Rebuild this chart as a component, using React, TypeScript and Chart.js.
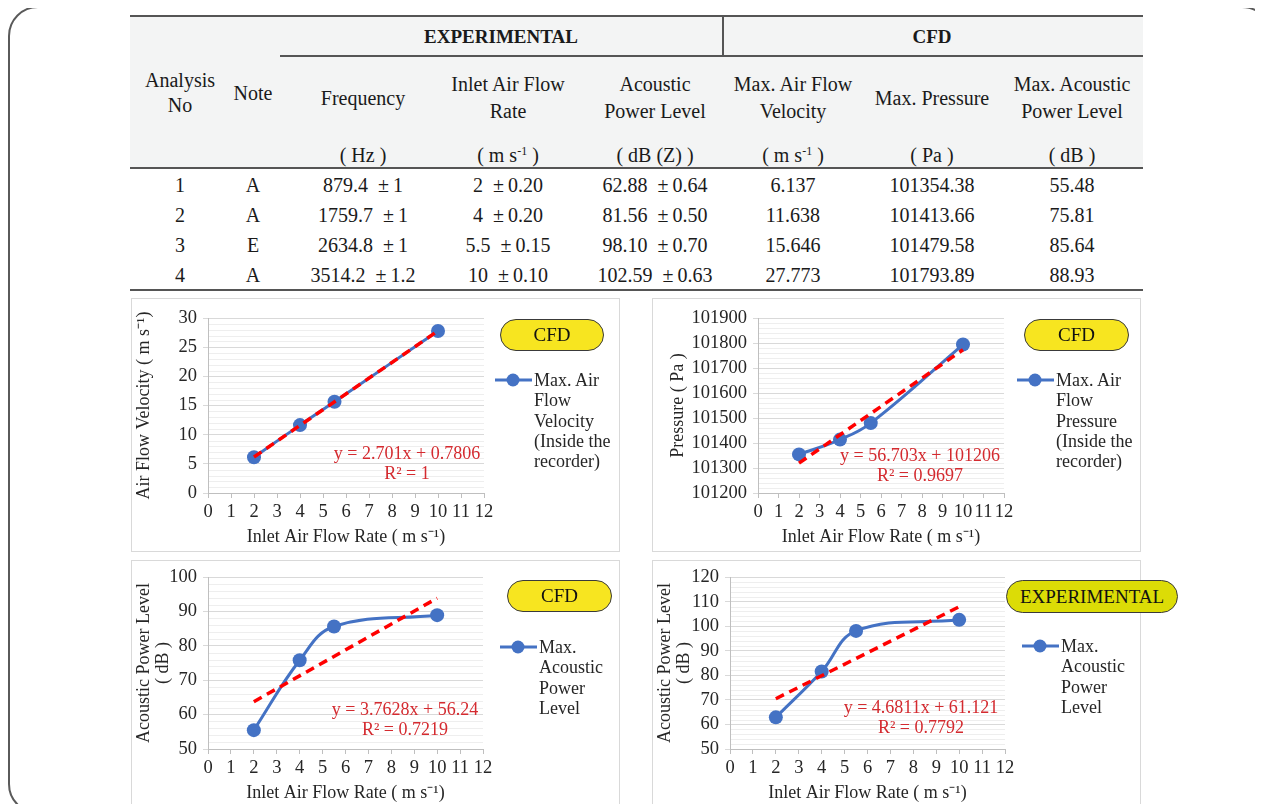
import React, { useEffect, useRef } from "react";
import { Chart, registerables } from "chart.js";

Chart.register(...registerables);

// ---------------- DATA ----------------
const analysisNo = [1, 2, 3, 4];
const noteNames = ["A", "A", "E", "A"];
const frequencyHz = ["879.4", "1759.7", "2634.8", "3514.2"];
const frequencyErr = ["1", "1", "1", "1.2"];
const flowRate = [2, 4, 5.5, 10];
const flowRateErr = ["0.20", "0.20", "0.15", "0.10"];
const expAcoustic = [62.88, 81.56, 98.1, 102.59];
const expAcousticErr = ["0.64", "0.50", "0.70", "0.63"];
const maxVelocity = [6.137, 11.638, 15.646, 27.773];
const maxPressure = [101354.38, 101413.66, 101479.58, 101793.89];
const cfdAcoustic = [55.48, 75.81, 85.64, 88.93];

// linear trendline end points (x = 2 and x = 10) as shown by the fitted equations
const trendX = [2, 10];
const trendVelocity = [6.18, 27.79];
const trendPressure = [101319.4, 101773.0];
const trendCfdAcoustic = [63.77, 93.87];
const trendExpAcoustic = [70.48, 107.93];

const xTickMin = 0;
const xTickMax = 12;

const SERIF = "'Liberation Serif', 'Times New Roman', Times, serif";
const BLUE = "#4472c4";
const EQ_RED = "#d42a2f";

// ---------------- minor grid plugin ----------------
const minorGridPlugin = {
  id: "minorGrid",
  beforeDatasetsDraw(chart: any, _args: any, opts: any) {
    const { ctx, chartArea } = chart;
    const y = chart.scales.y;
    const { min, max, step, major } = opts;
    if (!step) return;
    const n = Math.round((max - min) / step);
    ctx.save();
    ctx.strokeStyle = "#eeeeee";
    ctx.lineWidth = 1;
    for (let i = 0; i <= n; i++) {
      const v = min + i * step;
      const r = (v - min) / major;
      if (Math.abs(r - Math.round(r)) < 1e-6) continue;
      const py = Math.round(y.getPixelForValue(v)) + 0.5;
      ctx.beginPath();
      ctx.moveTo(chartArea.left + 1, py);
      ctx.lineTo(chartArea.right, py);
      ctx.stroke();
    }
    ctx.restore();
  },
};

type Panel = {
  box: { x: number; y: number; w: number; h: number };
  area: { l: number; r: number; t: number; b: number };
  yMin: number;
  yMax: number;
  yStep: number;
  yMinor: number;
  yTitle: string | string[];
  yTitlePad: number;
  xTitlePad: number;
  values: number[];
  trend: number[];
};

function ScatterPanel({ p }: { p: Panel }) {
  const ref = useRef<HTMLCanvasElement | null>(null);
  useEffect(() => {
    if (!ref.current) return;
    const tickFont = { family: SERIF, size: 18.5 };
    const titleFont = { family: SERIF, size: 18, lineHeight: 1.1 };
    const chart = new Chart(ref.current, {
      type: "scatter",
      data: {
        datasets: [
          {
            data: trendX.map((x, i) => ({ x, y: p.trend[i] })),
            showLine: true,
            borderColor: "#ff0000",
            borderWidth: 3.5,
            borderDash: [9, 6],
            pointRadius: 0,
            tension: 0,
          },
          {
            data: flowRate.map((x, i) => ({ x, y: p.values[i] })),
            showLine: true,
            borderColor: BLUE,
            backgroundColor: BLUE,
            borderWidth: 3,
            pointRadius: 7,
            pointBorderWidth: 0,
            pointBackgroundColor: BLUE,
            tension: 0.4,
          },
        ],
      } as any,
      options: {
        responsive: false,
        animation: false,
        events: [],
        layout: {
          padding: { left: 0, top: p.area.t, right: p.box.w - p.area.r, bottom: 0 },
        },
        plugins: {
          legend: { display: false },
          tooltip: { enabled: false },
          minorGrid: { min: p.yMin, max: p.yMax, step: p.yMinor, major: p.yStep },
        } as any,
        scales: {
          x: {
            type: "linear",
            min: xTickMin,
            max: xTickMax,
            ticks: {
              stepSize: 1,
              autoSkip: false,
              maxRotation: 0,
              font: tickFont,
              color: "#262626",
              padding: 3,
            },
            grid: { drawOnChartArea: false, color: "#bfbfbf", tickLength: 5 },
            border: { color: "#bfbfbf" },
            title: {
              display: true,
              text: "Inlet Air Flow Rate ( m s\u207B\u00B9)",
              font: titleFont,
              color: "#262626",
              padding: { top: 0, bottom: p.xTitlePad },
            },
            afterFit: (s: any) => {
              s.height = p.box.h - p.area.b;
            },
          },
          y: {
            type: "linear",
            min: p.yMin,
            max: p.yMax,
            ticks: {
              stepSize: p.yStep,
              autoSkip: false,
              font: tickFont,
              color: "#262626",
              padding: 6,
              callback: (v: any) => String(Math.round(Number(v))),
            },
            grid: { color: "#d9d9d9", tickLength: 5 },
            border: { color: "#bfbfbf" },
            title: {
              display: true,
              text: p.yTitle,
              font: titleFont,
              color: "#262626",
              padding: { top: p.yTitlePad, bottom: 0 },
            },
            afterFit: (s: any) => {
              s.width = p.area.l;
            },
          },
        },
      } as any,
      plugins: [minorGridPlugin],
    });
    return () => chart.destroy();
  }, [p]);

  return (
    <div
      style={{
        position: "absolute",
        left: p.box.x,
        top: p.box.y,
        width: p.box.w,
        height: p.box.h,
        outline: "1px solid #d9d9d9",
        outlineOffset: -1,
        background: "#fff",
      }}
    >
      <canvas ref={ref} width={p.box.w} height={p.box.h} style={{ display: "block" }} />
    </div>
  );
}

// ---------------- overlays ----------------
function Pill({ x, y, w, h, text, color }: any) {
  return (
    <div
      style={{
        position: "absolute",
        left: x,
        top: y,
        width: w,
        height: h,
        boxSizing: "border-box",
        border: "1.2px solid #3a3a3a",
        borderRadius: h / 2,
        background: color,
        fontFamily: SERIF,
        fontSize: 19,
        lineHeight: h - 2 + "px",
        textAlign: "center",
        color: "#111",
      }}
    >
      {text}
    </div>
  );
}

function LegendItem({ x, y, lines }: any) {
  return (
    <div style={{ position: "absolute", left: x, top: y - 10, fontFamily: SERIF, fontSize: 18, lineHeight: "20.3px", color: "#262626" }}>
      <svg width={38} height={20} style={{ position: "absolute", left: 0, top: 0 }}>
        <line x1={0} y1={10} x2={37} y2={10} stroke={BLUE} strokeWidth={3} />
        <circle cx={18} cy={10} r={6.5} fill={BLUE} />
      </svg>
      <div style={{ position: "absolute", left: 39, top: 0, whiteSpace: "nowrap" }}>
        {lines.map((l: string, i: number) => (
          <div key={i}>{l}</div>
        ))}
      </div>
    </div>
  );
}

function Equation({ cx, y, lines }: any) {
  return (
    <div
      style={{
        position: "absolute",
        left: cx - 120,
        width: 240,
        top: y - 10,
        textAlign: "center",
        fontFamily: SERIF,
        fontSize: 18,
        lineHeight: "19.5px",
        color: EQ_RED,
        whiteSpace: "nowrap",
      }}
    >
      {lines.map((l: string, i: number) => (
        <div key={i}>{l}</div>
      ))}
    </div>
  );
}

function Txt({ x, y, lines, lh = 26, bold = false, size = 20 }: any) {
  const n = lines.length;
  return (
    <div
      style={{
        position: "absolute",
        left: x - 100,
        width: 200,
        top: y - (n * lh) / 2,
        textAlign: "center",
        fontFamily: SERIF,
        fontSize: size,
        fontWeight: bold ? "bold" : "normal",
        lineHeight: lh + "px",
        color: "#1a1a1a",
        whiteSpace: "nowrap",
      }}
    >
      {lines.map((l: any, i: number) => (
        <div key={i}>{l}</div>
      ))}
    </div>
  );
}

const ms1 = (
  <span>
    ( m s<sup style={{ fontSize: 12, verticalAlign: 0, position: "relative", top: -7 }}>-1</sup> )
  </span>
);

const panels: Panel[] = [
  {
    box: { x: 131, y: 298, w: 489, h: 254 },
    area: { l: 77, r: 353, t: 20, b: 195 },
    yMin: 0, yMax: 30, yStep: 5, yMinor: 1,
    yTitle: "Air Flow Velocity ( m s\u207B\u00B9)",
    yTitlePad: 3, xTitlePad: 5,
    values: maxVelocity, trend: trendVelocity,
  },
  {
    box: { x: 652, y: 298, w: 489, h: 254 },
    area: { l: 106, r: 352, t: 20, b: 195 },
    yMin: 101200, yMax: 101900, yStep: 100, yMinor: 20,
    yTitle: "Pressure ( Pa )",
    yTitlePad: 16, xTitlePad: 5,
    values: maxPressure, trend: trendPressure,
  },
  {
    box: { x: 131, y: 560, w: 489, h: 245 },
    area: { l: 77, r: 352, t: 14, b: 189 },
    yMin: 50, yMax: 100, yStep: 10, yMinor: 2,
    yTitle: ["Acoustic Power Level", "( dB )"],
    yTitlePad: 3, xTitlePad: 2,
    values: cfdAcoustic, trend: trendCfdAcoustic,
  },
  {
    box: { x: 652, y: 560, w: 489, h: 245 },
    area: { l: 78, r: 353, t: 14, b: 189 },
    yMin: 50, yMax: 120, yStep: 10, yMinor: 2,
    yTitle: ["Acoustic Power Level", "( dB )"],
    yTitlePad: 3, xTitlePad: 2,
    values: expAcoustic, trend: trendExpAcoustic,
  },
];

const colX = [180, 253, 363, 508, 655, 793, 932, 1072];
const rowY = [185, 215, 245, 275];
const pm = (a: string, e: string) => `${a} \u00a0\u00b1\u2009${e}`;

export default function App() {
  return (
    <div style={{ position: "relative", width: 1263, height: 812, margin: -8, overflow: "hidden", background: "#fff" }}>
      {/* outer frame */}
      <div
        style={{
          position: "absolute",
          left: 8,
          top: 6,
          width: 1264,
          height: 808,
          boxSizing: "border-box",
          border: "2.5px solid #5a5a5a",
          borderRadius: 30,
        }}
      />
      {/* table header background */}
      <div style={{ position: "absolute", left: 130, top: 16, width: 1013, height: 152, background: "#f3f4f4" }} />
      <div style={{ position: "absolute", left: 130, top: 15, width: 1013, height: 2, background: "#555" }} />
      <div style={{ position: "absolute", left: 280, top: 55, width: 863, height: 2, background: "#555" }} />
      <div style={{ position: "absolute", left: 722, top: 16, width: 1.5, height: 40, background: "#555" }} />
      <div style={{ position: "absolute", left: 130, top: 167, width: 1013, height: 2, background: "#555" }} />
      <div style={{ position: "absolute", left: 130, top: 289, width: 1013, height: 2, background: "#555" }} />

      <Txt x={501} y={37} lines={["EXPERIMENTAL"]} bold size={19} />
      <Txt x={932} y={37} lines={["CFD"]} bold size={19} />

      <Txt x={colX[0]} y={92.5} lines={["Analysis", "No"]} lh={25} />
      <Txt x={colX[1]} y={93} lines={["Note"]} />
      <Txt x={colX[2]} y={98} lines={["Frequency"]} />
      <Txt x={colX[3]} y={97.5} lines={["Inlet Air Flow", "Rate"]} lh={27} />
      <Txt x={colX[4]} y={97.5} lines={["Acoustic", "Power Level"]} lh={27} />
      <Txt x={colX[5]} y={97.5} lines={["Max. Air Flow", "Velocity"]} lh={27} />
      <Txt x={colX[6]} y={98} lines={["Max. Pressure"]} />
      <Txt x={colX[7]} y={97.5} lines={["Max. Acoustic", "Power Level"]} lh={27} />

      <Txt x={colX[2]} y={155} lines={["( Hz )"]} />
      <Txt x={colX[3]} y={155} lines={[ms1]} />
      <Txt x={colX[4]} y={155} lines={["( dB (Z) )"]} />
      <Txt x={colX[5]} y={155} lines={[ms1]} />
      <Txt x={colX[6]} y={155} lines={["( Pa )"]} />
      <Txt x={colX[7]} y={155} lines={["( dB )"]} />

      {rowY.map((y, i) => (
        <React.Fragment key={i}>
          <Txt x={colX[0]} y={y} lines={[String(analysisNo[i])]} />
          <Txt x={colX[1]} y={y} lines={[noteNames[i]]} />
          <Txt x={colX[2]} y={y} lines={[pm(frequencyHz[i], frequencyErr[i])]} />
          <Txt x={colX[3]} y={y} lines={[pm(String(flowRate[i]), flowRateErr[i])]} />
          <Txt x={colX[4]} y={y} lines={[pm(expAcoustic[i].toFixed(2), expAcousticErr[i])]} />
          <Txt x={colX[5]} y={y} lines={[maxVelocity[i].toFixed(3)]} />
          <Txt x={colX[6]} y={y} lines={[maxPressure[i].toFixed(2)]} />
          <Txt x={colX[7]} y={y} lines={[cfdAcoustic[i].toFixed(2)]} />
        </React.Fragment>
      ))}

      {panels.map((p, i) => (
        <ScatterPanel key={i} p={p} />
      ))}

      <Pill x={500} y={319} w={104} h={32} text="CFD" color="#f7e520" />
      <Pill x={1024} y={319} w={105} h={32} text="CFD" color="#f7e520" />
      <Pill x={507} y={580} w={105} h={32} text="CFD" color="#f7e520" />
      <Pill x={1006} y={580} w={172} h={33} text="EXPERIMENTAL" color="#dcdc06" />

      <LegendItem x={495} y={380} lines={["Max. Air", "Flow", "Velocity", "(Inside the", "recorder)"]} />
      <LegendItem x={1017} y={380} lines={["Max. Air", "Flow", "Pressure", "(Inside the", "recorder)"]} />
      <LegendItem x={500} y={647} lines={["Max.", "Acoustic", "Power", "Level"]} />
      <LegendItem x={1022} y={646} lines={["Max.", "Acoustic", "Power", "Level"]} />

      <Equation cx={407} y={454} lines={["y = 2.701x + 0.7806", "R\u00b2 = 1"]} />
      <Equation cx={920} y={456} lines={["y = 56.703x + 101206", "R\u00b2 = 0.9697"]} />
      <Equation cx={405} y={710} lines={["y = 3.7628x + 56.24", "R\u00b2 = 0.7219"]} />
      <Equation cx={921} y={708} lines={["y = 4.6811x + 61.121", "R\u00b2 = 0.7792"]} />
    </div>
  );
}
